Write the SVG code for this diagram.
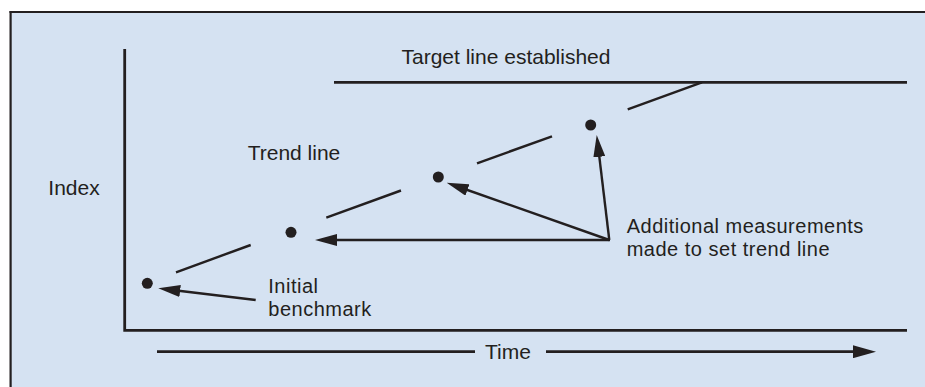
<svg xmlns="http://www.w3.org/2000/svg" width="925" height="387" viewBox="0 0 925 387">
  <style>
    .ink { stroke: #231f20; fill: none; stroke-linecap: butt; }
    .axis { stroke-width: 2.8; }
    .trend { stroke-width: 2.4; }
    .ptr { stroke-width: 2.4; }
    .dot { fill: #231f20; }
    text { font-family: "Liberation Sans", Arial, sans-serif; font-size: 21px; fill: #231f20; }
    text.two-line { font-size: 20px; letter-spacing: 0.5px; }
  </style>
  <defs>
    <marker id="head" markerUnits="userSpaceOnUse" markerWidth="22" markerHeight="12" refX="12" refY="6" orient="auto">
      <path d="M0,0 L22,6 L0,12 Z" fill="#231f20"/>
    </marker>
    <marker id="headTime" markerUnits="userSpaceOnUse" markerWidth="23" markerHeight="13" refX="13" refY="6.5" orient="auto">
      <path d="M0,0 L23,6.5 L0,13 Z" fill="#231f20"/>
    </marker>
  </defs>

  <!-- white page and tinted panel with its top/left rule -->
  <rect x="0" y="0" width="925" height="387" fill="#ffffff"/>
  <rect x="10" y="11" width="915" height="376" fill="#d5e2f2"/>
  <line x1="9.5" y1="12" x2="925" y2="12" stroke="#231f20" stroke-width="2.2"/>
  <line x1="10.6" y1="11" x2="10.6" y2="387" stroke="#231f20" stroke-width="2.2"/>

  <!-- axes -->
  <g id="axes" class="ink axis">
    <polyline points="124.7,49 124.7,330.3 907,330.3"/>
  </g>

  <!-- target line -->
  <g id="target-line">
    <line class="ink axis" x1="334" y1="82.3" x2="907" y2="82.3"/>
    <text x="401.5" y="64">Target line established</text>
  </g>

  <!-- dashed trend line segments -->
  <g id="trend-line" class="ink trend">
    <line x1="176" y1="272.3" x2="250.7" y2="245"/>
    <line x1="326.3" y1="217.7" x2="401" y2="190.5"/>
    <line x1="477" y1="163.3" x2="552" y2="136.3"/>
    <line x1="627.7" y1="109.3" x2="702" y2="82.3"/>
  </g>

  <!-- measurement points -->
  <g id="point-1"><circle class="dot" cx="147.3" cy="283.3" r="5.5"/></g>
  <g id="point-2"><circle class="dot" cx="291" cy="232.3" r="5.5"/></g>
  <g id="point-3"><circle class="dot" cx="438.3" cy="177" r="5.5"/></g>
  <g id="point-4"><circle class="dot" cx="590.7" cy="125" r="5.5"/></g>

  <!-- labels -->
  <g id="label-index"><text x="48.3" y="195">Index</text></g>
  <g id="label-trend"><text x="247.7" y="160">Trend line</text></g>
  <g id="label-benchmark">
    <text class="two-line" x="268.3" y="293.2">Initial</text>
    <text class="two-line" x="268.3" y="315.6">benchmark</text>
  </g>
  <g id="label-additional">
    <text class="two-line" x="626.7" y="233.1">Additional measurements</text>
    <text class="two-line" x="626.7" y="255.5">made to set trend line</text>
  </g>

  <!-- pointer arrows -->
  <g id="connectors" class="ink ptr">
    <line x1="255.7" y1="300" x2="168.2" y2="289.5" marker-end="url(#head)"/>
    <line x1="610" y1="240" x2="325" y2="240" marker-end="url(#head)"/>
    <line x1="609.3" y1="240" x2="456.1" y2="186" marker-end="url(#head)"/>
    <line x1="609.3" y1="240" x2="597.9" y2="144.9" marker-end="url(#head)"/>
  </g>

  <!-- time axis arrow -->
  <g id="time-axis">
    <line class="ink axis" x1="157" y1="351.7" x2="475" y2="351.7"/>
    <line class="ink axis" x1="546" y1="351.7" x2="866" y2="351.7" marker-end="url(#headTime)"/>
    <text x="485" y="359.3">Time</text>
  </g>
</svg>
